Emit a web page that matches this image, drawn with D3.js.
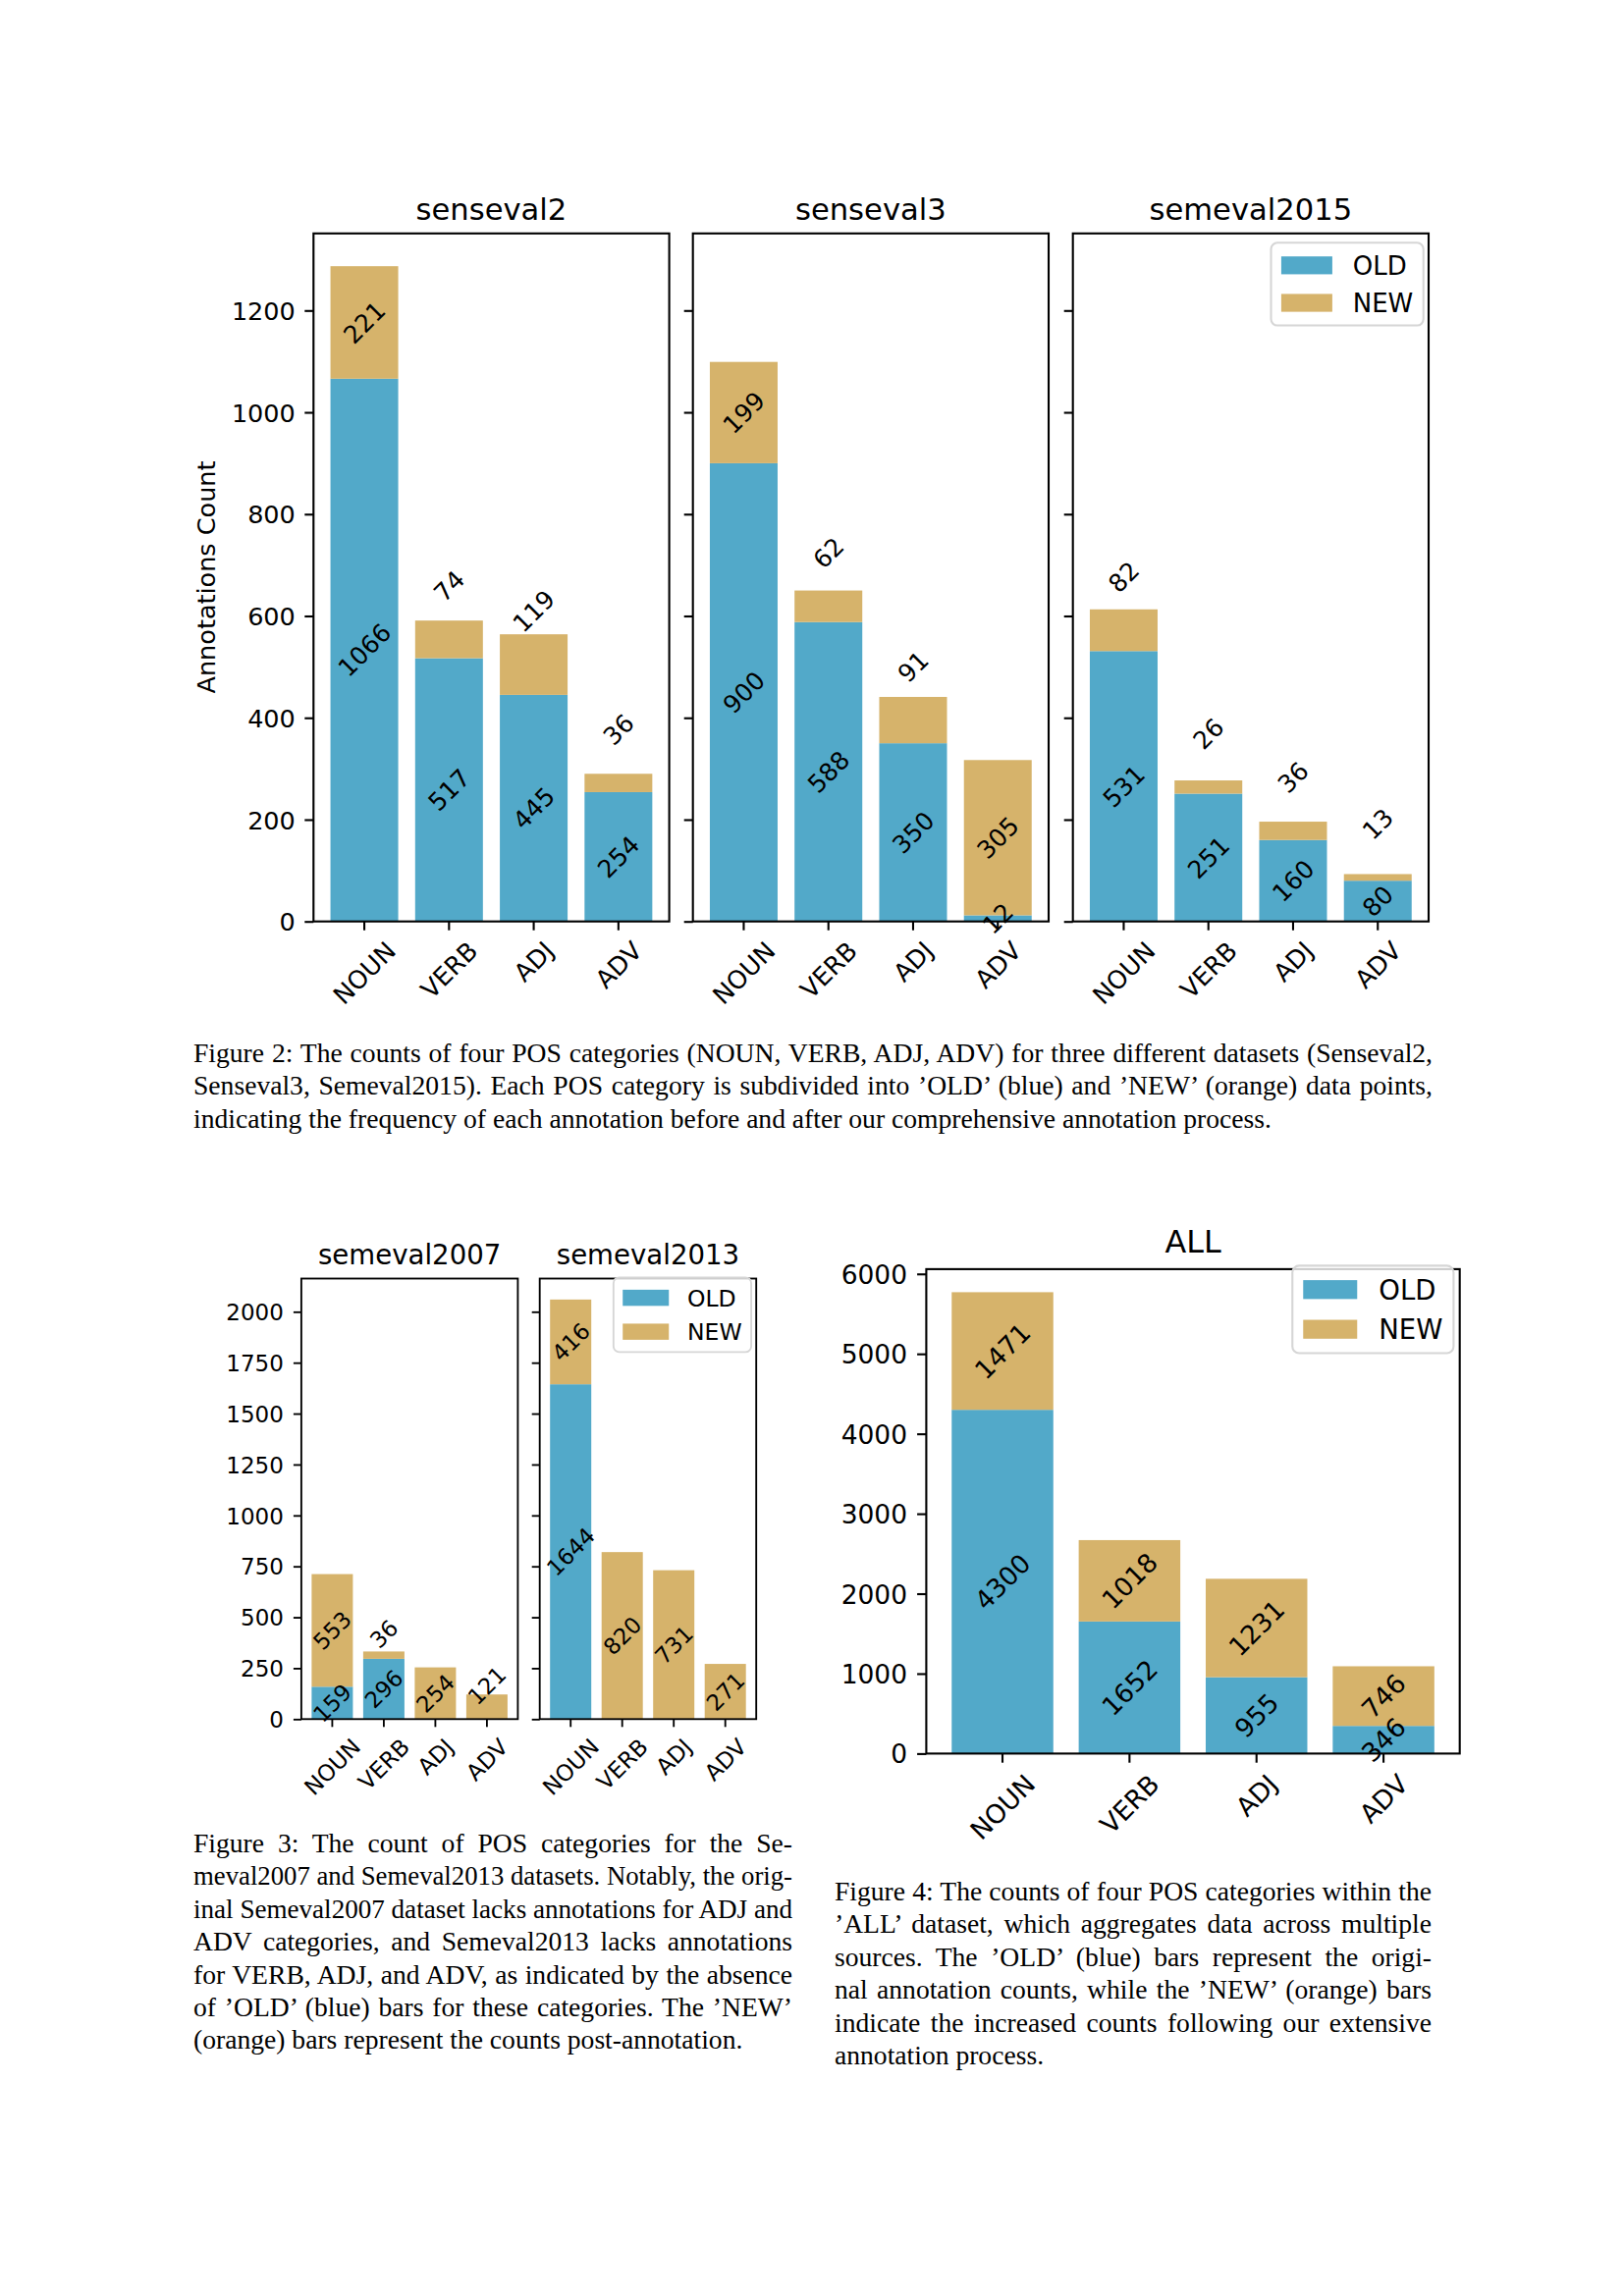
<!DOCTYPE html>
<html>
<head>
<meta charset="utf-8">
<script src="https://cdn.jsdelivr.net/npm/d3@7"></script>
<style>
  body { margin: 0; background: #fff; }
  text { font-family: "DejaVu Sans", sans-serif; fill: #000; }
  .cap { font-family: "Liberation Serif", "Times New Roman", serif; }
</style>
</head>
<body>
<svg id="page" width="1654" height="2339"></svg>
<script>
// ---- data ----
var categories = ["NOUN", "VERB", "ADJ", "ADV"];

var senseval2Old = [1066, 517, 445, 254];
var senseval2New = [221, 74, 119, 36];
var senseval3Old = [900, 588, 350, 12];
var senseval3New = [199, 62, 91, 305];
var semeval2015Old = [531, 251, 160, 80];
var semeval2015New = [82, 26, 36, 13];

var semeval2007Old = [159, 296, 0, 0];
var semeval2007New = [553, 36, 254, 121];
var semeval2013Old = [1644, 0, 0, 0];
var semeval2013New = [416, 820, 731, 271];

var allOld = [4300, 1652, 955, 346];
var allNew = [1471, 1018, 1231, 746];

var topTicks = [0, 200, 400, 600, 800, 1000, 1200];
var midTicks = [0, 250, 500, 750, 1000, 1250, 1500, 1750, 2000];
var allTicks = [0, 1000, 2000, 3000, 4000, 5000, 6000];

var legendLabels = ["OLD", "NEW"];

var caption2 = [
  "Figure 2: The counts of four POS categories (NOUN, VERB, ADJ, ADV) for three different datasets (Senseval2,",
  "Senseval3, Semeval2015). Each POS category is subdivided into \u2019OLD\u2019 (blue) and \u2019NEW\u2019 (orange) data points,",
  "indicating the frequency of each annotation before and after our comprehensive annotation process."
];
var caption3 = [
  "Figure 3: The count of POS categories for the Se-",
  "meval2007 and Semeval2013 datasets. Notably, the orig-",
  "inal Semeval2007 dataset lacks annotations for ADJ and",
  "ADV categories, and Semeval2013 lacks annotations",
  "for VERB, ADJ, and ADV, as indicated by the absence",
  "of \u2019OLD\u2019 (blue) bars for these categories. The \u2019NEW\u2019",
  "(orange) bars represent the counts post-annotation."
];
var caption4 = [
  "Figure 4: The counts of four POS categories within the",
  "\u2019ALL\u2019 dataset, which aggregates data across multiple",
  "sources. The \u2019OLD\u2019 (blue) bars represent the origi-",
  "nal annotation counts, while the \u2019NEW\u2019 (orange) bars",
  "indicate the increased counts following our extensive",
  "annotation process."
];

var BLUE = "#52a9c9";
var GOLD = "#d6b36b";

var svg = d3.select("#page");

function rotLabel(g, cx, cy, txt, fs) {
  g.append("text")
    .attr("transform", "translate(" + cx + "," + cy + ") rotate(-45)")
    .attr("text-anchor", "middle")
    .attr("dy", "0.36em")
    .style("font-size", fs + "px")
    .text(txt);
}

function maxTotal(pairs) {
  var m = 0;
  pairs.forEach(function(p) {
    p[0].forEach(function(v, i) { m = Math.max(m, v + p[1][i]); });
  });
  return m;
}

// one matplotlib-like stacked bar panel
function panel(o) {
  var g = svg.append("g");
  var x = d3.scaleBand().domain(categories)
            .range([o.x, o.x + o.w]).paddingInner(0.2).paddingOuter(0.2);
  var y = d3.scaleLinear().domain([0, o.ymax]).range([o.y + o.h, o.y]);

  var rows = categories.map(function(c, i) {
    return { cat: c, old: o.olds[i], nw: o.news[i] };
  });

  g.selectAll("rect.old").data(rows).enter().append("rect")
    .attr("x", function(d) { return x(d.cat); })
    .attr("width", x.bandwidth())
    .attr("y", function(d) { return y(d.old); })
    .attr("height", function(d) { return y(0) - y(d.old); })
    .attr("fill", BLUE);

  g.selectAll("rect.nw").data(rows).enter().append("rect")
    .attr("x", function(d) { return x(d.cat); })
    .attr("width", x.bandwidth())
    .attr("y", function(d) { return y(d.old + d.nw); })
    .attr("height", function(d) { return y(d.old) - y(d.old + d.nw); })
    .attr("fill", GOLD);

  // value labels, small NEW parts get lifted above the bar
  rows.forEach(function(d) {
    var cx = x(d.cat) + x.bandwidth() / 2;
    if (d.old > 0) rotLabel(g, cx, y(d.old / 2), d.old, o.valFs);
    if (d.nw > 0) {
      var v = d.old + d.nw / 2;
      if (d.nw < 150) v += 105;
      rotLabel(g, cx, y(v), d.nw, o.valFs);
    }
  });

  // y axis
  var ya = d3.axisLeft(y).tickValues(o.ticks).tickSize(o.tick).tickPadding(o.pad)
             .tickFormat(d3.format("d"));
  if (!o.showY) ya.tickFormat(function() { return ""; });
  var yg = g.append("g").attr("transform", "translate(" + o.x + ",0)").call(ya);
  yg.select(".domain").remove();
  yg.selectAll("line").attr("stroke", "#000").attr("stroke-width", o.lw);
  yg.selectAll("text").attr("dy", "0.36em")
    .style("font-size", o.fs + "px").style("font-family", "DejaVu Sans");

  // x axis
  var xa = d3.axisBottom(x).tickSize(o.tick).tickFormat(function() { return ""; });
  var xg = g.append("g").attr("transform", "translate(0," + (o.y + o.h) + ")").call(xa);
  xg.select(".domain").remove();
  xg.selectAll("line").attr("stroke", "#000").attr("stroke-width", o.lw);

  categories.forEach(function(c) {
    var cx = x(c) + x.bandwidth() / 2;
    var t = g.append("text")
      .attr("text-anchor", "middle")
      .attr("dy", "0.36em")
      .style("font-size", o.fs + "px")
      .text(c);
    var w = t.node().getComputedTextLength();
    var half = (w + 0.73 * o.fs) / (2 * Math.SQRT2);
    var cy = o.y + o.h + o.tick + o.pad + half;
    t.attr("transform", "translate(" + cx + "," + cy + ") rotate(-45)");
  });

  // frame
  g.append("rect")
    .attr("x", o.x).attr("y", o.y).attr("width", o.w).attr("height", o.h)
    .attr("fill", "none").attr("stroke", "#000").attr("stroke-width", o.lw);

  // title
  g.append("text")
    .attr("x", o.x + o.w / 2).attr("y", o.y - o.titleGap)
    .attr("text-anchor", "middle")
    .style("font-size", (o.fs * 1.2) + "px")
    .text(o.title);

  if (o.legend) legend(o.x + o.w - o.legend[0], o.y + o.legend[1], o.legFs, o.lw);
  return g;
}

function legend(right, top, fs, lw) {
  var g = svg.append("g");
  var probe = g.append("text").style("font-size", fs + "px").text("NEW");
  var tw = probe.node().getComputedTextLength();
  probe.remove();
  var rowH = 0.97 * fs;
  var bw = 0.4 * fs * 2 + 2 * fs + 0.8 * fs + tw;
  var bh = 0.4 * fs * 2 + 2 * rowH + 0.5 * fs;
  var left = right - bw;
  g.append("rect")
    .attr("x", left).attr("y", top).attr("width", bw).attr("height", bh)
    .attr("rx", 0.25 * fs).attr("fill", "#fff").attr("fill-opacity", 0.8)
    .attr("stroke", "#d6d6d6").attr("stroke-width", lw);
  [BLUE, GOLD].forEach(function(col, i) {
    var cy = top + 0.4 * fs + rowH / 2 + i * (rowH + 0.5 * fs);
    g.append("rect")
      .attr("x", left + 0.4 * fs).attr("y", cy - 0.35 * fs)
      .attr("width", 2 * fs).attr("height", 0.7 * fs)
      .attr("fill", col);
    g.append("text")
      .attr("x", left + 0.4 * fs + 2.8 * fs).attr("y", cy)
      .attr("dy", "0.36em")
      .style("font-size", fs + "px")
      .text(legendLabels[i]);
  });
}

// ---- Figure 2 : three panels sharing y ----
var topMax = maxTotal([[senseval2Old, senseval2New], [senseval3Old, senseval3New],
                       [semeval2015Old, semeval2015New]]) * 1.05;
var topCommon = { y: 237.8, w: 362.3, h: 700.9, ymax: topMax, ticks: topTicks,
                  fs: 25.5, valFs: 25, tick: 9, pad: 9.5, lw: 2.1, titleGap: 14, legFs: 26 };
panel(Object.assign({}, topCommon, { x: 319.3, title: "senseval2",
  olds: senseval2Old, news: senseval2New, showY: true }));
panel(Object.assign({}, topCommon, { x: 705.7, title: "senseval3",
  olds: senseval3Old, news: senseval3New, showY: false }));
panel(Object.assign({}, topCommon, { x: 1092.7, title: "semeval2015",
  olds: semeval2015Old, news: semeval2015New, showY: false, legend: [5.3, 9.5] }));

svg.append("text")
  .attr("transform", "translate(209.6,588) rotate(-90)")
  .attr("text-anchor", "middle")
  .attr("dy", "0.36em")
  .style("font-size", "25.5px")
  .text("Annotations Count");

// ---- Figure 3 : two panels sharing y ----
var midMax = maxTotal([[semeval2007Old, semeval2007New], [semeval2013Old, semeval2013New]]) * 1.05;
var midCommon = { y: 1302.5, w: 220.5, h: 448.8, ymax: midMax, ticks: midTicks,
                  fs: 23, valFs: 22.8, tick: 8, pad: 10, lw: 1.85, titleGap: 15, legFs: 23.5 };
panel(Object.assign({}, midCommon, { x: 306.9, title: "semeval2007",
  olds: semeval2007Old, news: semeval2007New, showY: true }));
panel(Object.assign({}, midCommon, { x: 549.7, title: "semeval2013",
  olds: semeval2013Old, news: semeval2013New, showY: false, legend: [5.1, -1.2] }));

// ---- Figure 4 : ALL ----
var allMax = maxTotal([[allOld, allNew]]) * 1.05;
panel({ x: 943.4, y: 1292.9, w: 543.3, h: 493.5, ymax: allMax, ticks: allTicks,
  fs: 26.5, valFs: 26.3, tick: 9.3, pad: 10, lw: 2.1, titleGap: 17.4, legFs: 27.5,
  title: "ALL", olds: allOld, news: allNew, showY: true, legend: [6.3, -3.5] });

// ---- captions (justified like LaTeX) ----
function caption(lines, x0, x1, y0, lead, fs) {
  lines.forEach(function(s, i) {
    var t = svg.append("text").attr("class", "cap")
      .attr("x", x0).attr("y", y0 + i * lead)
      .style("font-size", fs + "px")
      .text(s);
    if (i < lines.length - 1) {
      var w = t.node().getComputedTextLength();
      var gaps = s.split(" ").length - 1;
      var ws = (x1 - x0 - w) / gaps;
      if (ws < 0) {
        // squeeze letters a little instead of collapsing the spaces
        t.attr("textLength", x1 - x0).attr("lengthAdjust", "spacingAndGlyphs");
      } else if (gaps > 0) {
        t.style("word-spacing", ws + "px");
      }
    }
  });
}
caption(caption2, 197, 1459, 1082, 33.4, 27.6);
caption(caption3, 197, 807, 1887, 33.4, 27.6);
caption(caption4, 850, 1458, 1936, 33.4, 27.6);
</script>
</body>
</html>
